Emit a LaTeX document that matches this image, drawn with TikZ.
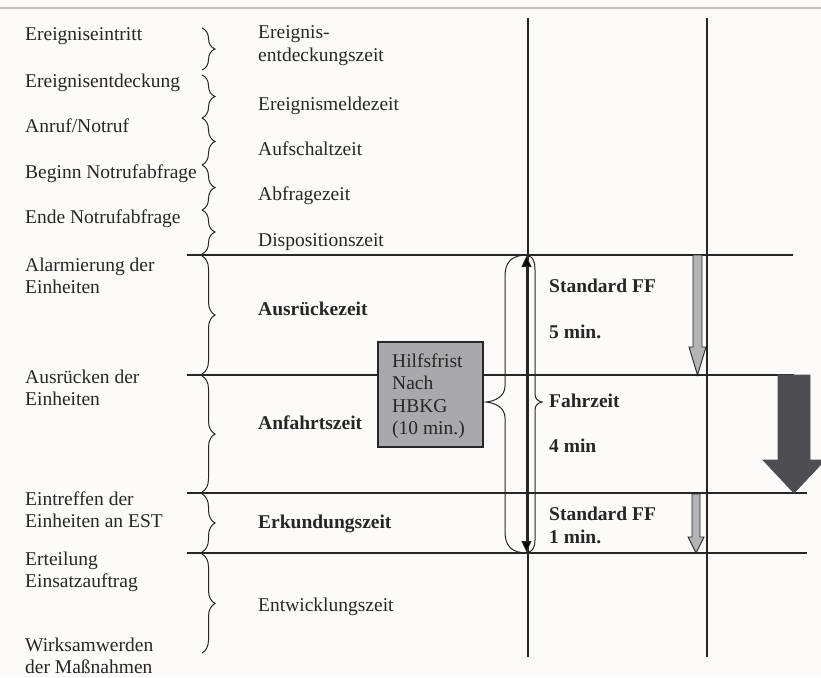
\documentclass[tikz,border=0pt]{standalone}
\usepackage{fontspec}
\setmainfont{Liberation Serif}
\usetikzlibrary{decorations.pathreplacing,arrows.meta}
\definecolor{ink}{HTML}{262626}
\definecolor{bgc}{HTML}{FDFBF9}
\definecolor{boxgray}{HTML}{A9A9AB}
\definecolor{lightarrow}{HTML}{B4B4B6}
\definecolor{darkarrow}{HTML}{4E4E52}
\newcommand\twol[2]{\begin{tabular}[t]{@{}l@{}}#1\\#2\end{tabular}}
\begin{document}
\begin{tikzpicture}[x=1pt,y=-1pt,
  font=\fontsize{19.5}{22.5}\selectfont,
  lbl/.style={anchor=base west, inner sep=0pt, text=ink},
  blbl/.style={lbl, font=\fontsize{19.5}{22.5}\selectfont\bfseries},
  thinline/.style={draw=ink, line width=1.1pt},
  thickline/.style={draw=ink, line width=2.4pt},
  bracestyle/.style={draw=ink, line width=1pt, decorate,
     decoration={brace, amplitude=13pt}},
  hbox/.style={draw=ink, line width=1.1pt, fill=boxgray, minimum width=105pt,
     minimum height=105pt, inner sep=0pt}]
\useasboundingbox[fill=bgc] (0,0) rectangle (821,677);
% top rule
\draw[gray!50, line width=1.2pt] (0,8) -- (821,8);
% vertical lines
\draw[thinline] (528,18) -- (528,657);
\draw[thinline] (707,18) -- (707,657);
% horizontal lines
\draw[thickline] (187,255) -- (793,255);
\draw[thinline] (187,375) -- (794,375);
\draw[thinline] (187,493) -- (807,493);
\draw[thickline] (187,553) -- (807,553);
% left braces
\draw[bracestyle] (202,28) -- (202,70);
\draw[bracestyle] (202,75) -- (202,118);
\draw[bracestyle] (202,118) -- (202,165);
\draw[bracestyle] (202,165) -- (202,210);
\draw[bracestyle] (202,210) -- (202,254);
\draw[bracestyle] (202,256) -- (202,374);
\draw[bracestyle] (202,376) -- (202,492);
\draw[bracestyle] (202,494) -- (202,552);
\draw[bracestyle] (202,554) -- (202,653);
% left labels
\node[lbl] (l1) at (25,41) {Ereigniseintritt};
\node[lbl] (l2) at (25,87) {Ereignisentdeckung};
\node[lbl] (l3) at (25,132) {Anruf/Notruf};
\node[lbl] (l4) at (25,178) {Beginn Notrufabfrage};
\node[lbl] (l5) at (25,223) {Ende Notrufabfrage};
\node[lbl] (l6) at (25,271) {\twol{Alarmierung der}{Einheiten}};
\node[lbl] (l7) at (25,383) {\twol{Ausrücken der}{Einheiten}};
\node[lbl] (l8) at (25,505) {\twol{Eintreffen der}{Einheiten an EST}};
\node[lbl] (l9) at (25,565) {\twol{Erteilung}{Einsatzauftrag}};
\node[lbl] (l10) at (25,651) {\twol{Wirksamwerden}{der Maßnahmen}};
% middle labels
\node[lbl] (m1) at (258,39) {\twol{Ereignis-}{entdeckungszeit}};
\node[lbl] (m2) at (258,110) {Ereignismeldezeit};
\node[lbl] (m3) at (258,155) {Aufschaltzeit};
\node[lbl] (m4) at (258,200) {Abfragezeit};
\node[lbl] (m5) at (258,246) {Dispositionszeit};
\node[blbl] (m6) at (258,315) {Ausrückezeit};
\node[blbl] (m7) at (258,429) {Anfahrtszeit};
\node[blbl] (m8) at (258,528) {Erkundungszeit};
\node[lbl] (m9) at (258,611) {Entwicklungszeit};
% Hilfsfrist box
\node[hbox] (hb) at (430.5,394.5) {};
\node[lbl, anchor=base west] (hbt) at (392,367)
  {\begin{tabular}[t]{@{}l@{}}Hilfsfrist\\Nach\\HBKG\\(10 min.)\end{tabular}};
% big left-pointing brace
\draw[draw=ink, line width=1pt]
  (527,255) .. controls (512,255) and (505,262) .. (505,276) -- (505,386)
  .. controls (505,396) and (496,401) .. (486,402)
  .. controls (496,403) and (505,408) .. (505,418) -- (505,532)
  .. controls (505,546) and (512,553) .. (527,553);
% small right-pointing brace
\draw[draw=ink, line width=1pt]
  (529,256) .. controls (533,257) and (535,262) .. (535,270) -- (535,394)
  .. controls (535,399) and (538,401) .. (542,402)
  .. controls (538,403) and (535,405) .. (535,410) -- (535,540)
  .. controls (535,546) and (533,551) .. (529,552);
% double arrow
\coordinate (dtop) at (526.5,256);
\coordinate (dbot) at (526.5,552);
\draw[draw=ink, line width=1pt, {Triangle[length=11pt,width=10pt,fill=black]}-{Triangle[length=11pt,width=10pt,fill=black]}] (dtop) -- (dbot);
% right labels
\node[blbl] (r1) at (549,292) {Standard FF};
\node[blbl] (r2) at (549,338) {5 min.};
\node[blbl] (r3) at (549,407) {Fahrzeit};
\node[blbl] (r4) at (549,452) {4 min};
\node[blbl] (r5) at (549,520) {Standard FF};
\node[blbl] (r6) at (549,543) {1 min.};
% light gray arrows
\filldraw[fill=lightarrow, draw=ink, line width=0.9pt]
  (693,255) -- (702,255) -- (702,347) -- (706,347) -- (697.5,375)
  -- (689,347) -- (693,347) -- cycle;
\filldraw[fill=lightarrow, draw=ink, line width=0.9pt]
  (692,494) -- (700,494) -- (700,537) -- (704,537) -- (696,553)
  -- (688,537) -- (692,537) -- cycle;
% dark arrow
\filldraw[fill=darkarrow, draw=darkarrow, line width=0.8pt]
  (778,375) -- (810,375) -- (810,460) -- (825,460) -- (794,493)
  -- (763,460) -- (778,460) -- cycle;
\end{tikzpicture}
\end{document}
